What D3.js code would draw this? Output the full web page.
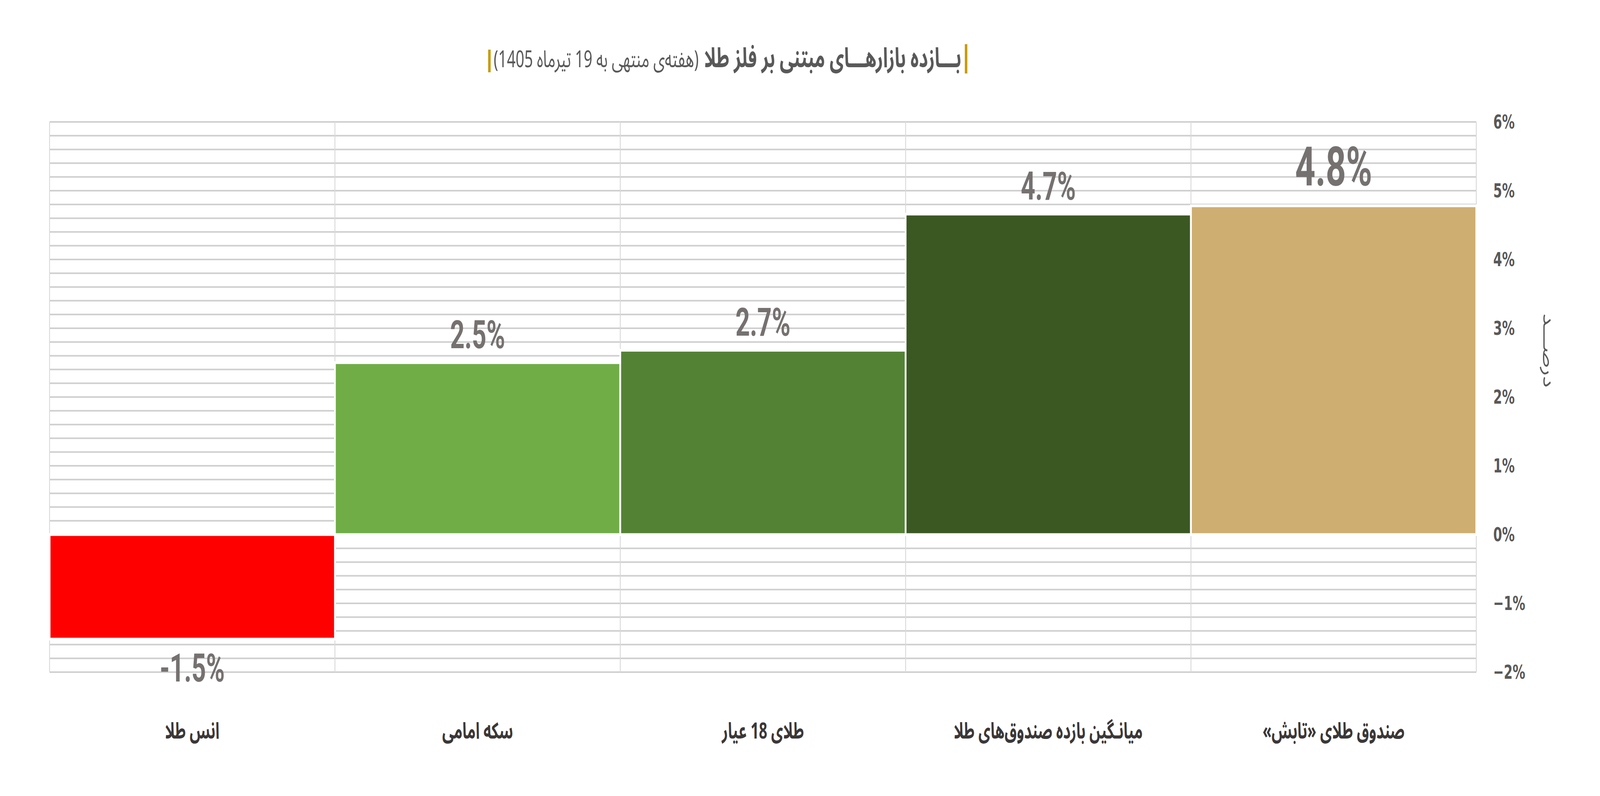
<!DOCTYPE html>
<html>
<head>
<meta charset="utf-8">
<script src="https://cdn.jsdelivr.net/npm/d3@7"></script>
<style>
  html, body { margin: 0; padding: 0; background: #ffffff; overflow: hidden; }
  svg { display: block; width: 100vw; height: 100vh; }
</style>
</head>
<body>
<svg id="chart" viewBox="0 0 6325 2037" preserveAspectRatio="none"></svg>
<script>
// ---------- data ----------
const categories = ['انس طلا', 'سکه امامی', 'طلای 18 عیار', 'میانـگین بازده صندوق‌های طلا', 'صندوق طلای «تابش»'];
const values = [-1.52, 2.50, 2.68, 4.66, 4.78];
const valueLabels = ['-1.5%', '2.5%', '2.7%', '4.7%', '4.8%'];
const barColors = ['#ff0000', '#70ad47', '#548235', '#3b5823', '#cfae71'];
const yTickValues = [-2, -1, 0, 1, 2, 3, 4, 5, 6];
const yTickLabels = ['−2%', '−1%', '0%', '1%', '2%', '3%', '4%', '5%', '6%'];
const titleMain = 'بـــازده بازارهـــای مبتنی بر فلز طلا';
const titleSub = '(هفته‌ی منتهی به 19 تیرماه 1405)';
const yAxisTitle = 'درصـــد';
const highlighted = 'صندوق طلای «تابش»';

// ---------- layout ----------
const svg = d3.select('#chart');
const plot = { left: 196, right: 5836, top: 312, bottom: 1720 };
const faFont = "'Noto Sans Arabic', Vazirmatn, 'DejaVu Sans', sans-serif";

const x = d3.scaleBand().domain(categories).range([plot.left, plot.right]).padding(0);
const y = d3.scaleLinear().domain([-2, 6]).range([plot.bottom, plot.top]);

// horizontal grid (minor every 0.2%)
const gridVals = y.ticks(40);
svg.append('g').selectAll('line').data(gridVals).join('line')
  .attr('x1', plot.left).attr('x2', plot.right)
  .attr('y1', d => y(d)).attr('y2', d => y(d))
  .attr('stroke', '#cfcfcf').attr('stroke-width', 4);

// vertical grid at band edges
const edges = categories.map(c => x(c)).concat([plot.right]);
svg.append('g').selectAll('line').data(edges).join('line')
  .attr('x1', d => d).attr('x2', d => d)
  .attr('y1', plot.top).attr('y2', plot.bottom)
  .attr('stroke', '#d9d9d9').attr('stroke-width', 3.5);

// bars
svg.append('g').selectAll('rect').data(categories).join('rect')
  .attr('x', d => x(d))
  .attr('width', x.bandwidth())
  .attr('y', (d, i) => Math.min(y(values[i]), y(0)))
  .attr('height', (d, i) => Math.abs(y(values[i]) - y(0)))
  .attr('fill', (d, i) => barColors[i])
  .attr('stroke', '#ffffff').attr('stroke-width', 7);

// value labels
svg.append('g').selectAll('text').data(categories).join('text')
  .attr('x', d => x(d) + x.bandwidth() / 2)
  .attr('y', (d, i) => {
    const fs = d === highlighted ? 140 : 100;
    return values[i] >= 0 ? y(values[i]) - 0.37 * fs : y(values[i]) + 108;
  })
  .attr('text-anchor', 'middle')
  .attr('font-family', 'Roboto, sans-serif')
  .attr('font-weight', 700)
  .attr('font-size', d => d === highlighted ? 140 : 100)
  .attr('fill', '#767171')
  .text((d, i) => valueLabels[i]);

// category labels
svg.append('g').selectAll('text').data(categories).join('text')
  .attr('x', d => x(d) + x.bandwidth() / 2)
  .attr('y', 1890)
  .attr('text-anchor', 'middle')
  .attr('direction', 'rtl')
  .attr('font-family', faFont)
  .attr('font-weight', 700)
  .attr('font-size', 58)
  .attr('fill', '#3b3838')
  .text(d => d);

// y axis on the right
const yAxis = d3.axisRight(y)
  .tickValues(yTickValues)
  .tickFormat((d, i) => yTickLabels[i])
  .tickSize(0)
  .tickPadding(67);
const gy = svg.append('g').attr('transform', `translate(${plot.right},0)`).call(yAxis);
gy.select('.domain').remove();
gy.selectAll('text')
  .attr('font-family', "'DejaVu Sans', sans-serif")
  .attr('font-weight', 700)
  .attr('font-size', 50)
  .attr('fill', '#595959');

// y axis title (rotated)
svg.append('text')
  .attr('transform', 'translate(6118,897) rotate(90)')
  .attr('text-anchor', 'middle')
  .attr('dominant-baseline', 'middle')
  .attr('direction', 'rtl')
  .attr('font-family', faFont)
  .attr('font-size', 62)
  .attr('fill', '#595959')
  .text(yAxisTitle);

// title (rtl: text-anchor 'start' = right edge)
const titleRight = 3800;
const tMain = svg.append('text')
  .attr('x', titleRight).attr('y', 172)
  .attr('text-anchor', 'start')
  .attr('direction', 'rtl')
  .attr('font-family', faFont)
  .attr('font-weight', 700)
  .attr('font-size', 70)
  .attr('fill', '#595959')
  .text(titleMain);
const mainW = tMain.node().getComputedTextLength();
const subRight = titleRight - mainW - 22;
const tSub = svg.append('text')
  .attr('x', subRight).attr('y', 172)
  .attr('text-anchor', 'start')
  .attr('direction', 'rtl')
  .attr('font-family', faFont)
  .attr('font-size', 60)
  .attr('fill', '#595959')
  .text(titleSub);
const subW = tSub.node().getComputedTextLength();
svg.append('rect').attr('x', titleRight + 14).attr('y', 113).attr('width', 10).attr('height', 75).attr('fill', '#c89b0c');
svg.append('rect').attr('x', subRight - subW - 22).attr('y', 127).attr('width', 10).attr('height', 58).attr('fill', '#c89b0c');
</script>
</body>
</html>
